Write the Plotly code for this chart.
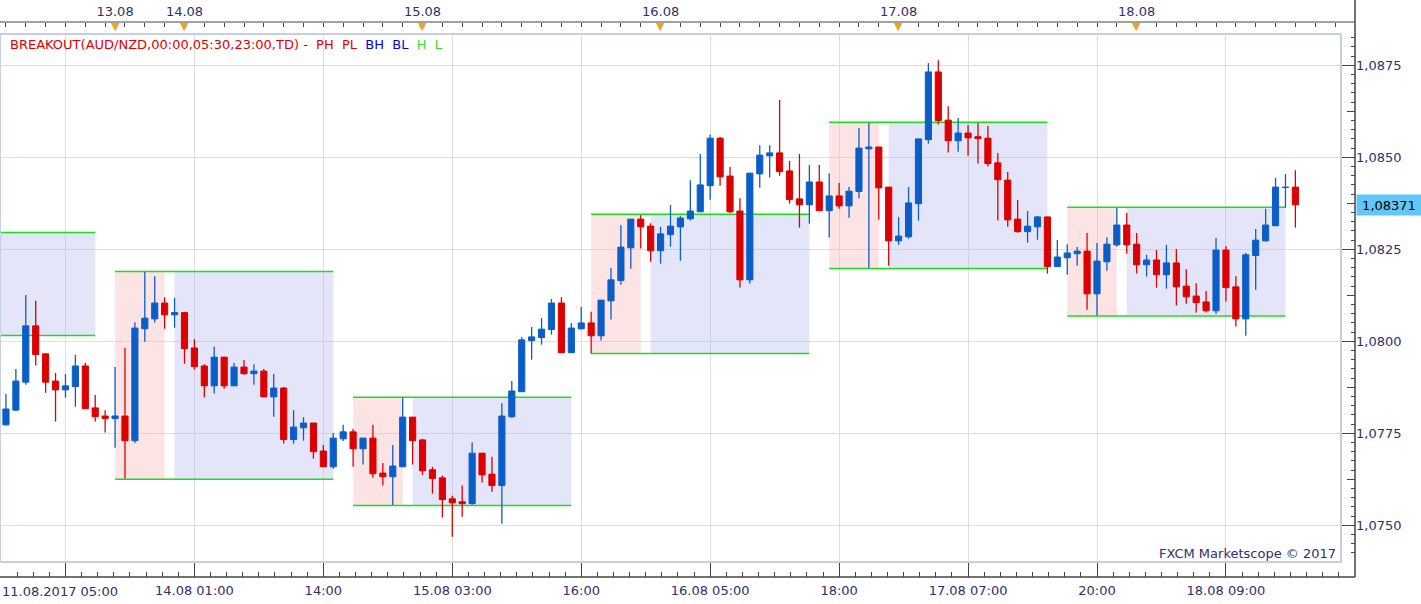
import plotly.graph_objects as go

# ---------------- data (hourly AUD/NZD candles) ----------------
opens = [1.07773, 1.07813, 1.07889, 1.08042, 1.07966, 1.07892, 1.07868, 1.07877, 1.07933, 1.07819,
         1.07797, 1.07790, 1.07797, 1.07730, 1.08034, 1.08061, 1.08104, 1.08072, 1.08078, 1.07982,
         1.07933, 1.07879, 1.07957, 1.07879, 1.07930, 1.07912, 1.07919, 1.07849, 1.07873, 1.07733,
         1.07765, 1.07778, 1.07702, 1.07659, 1.07735, 1.07754, 1.07708, 1.07737, 1.07642, 1.07632,
         1.07659, 1.07794, 1.07732, 1.07651, 1.07629, 1.07572, 1.07564, 1.07559, 1.07696, 1.07639,
         1.07608, 1.07795, 1.07863, 1.08002, 1.08010, 1.08032, 1.08104, 1.07969, 1.08034, 1.08050,
         1.08015, 1.08110, 1.08165, 1.08254, 1.08332, 1.08313, 1.08246, 1.08290, 1.08311, 1.08333,
         1.08352, 1.08423, 1.08552, 1.08449, 1.08354, 1.08167, 1.08455, 1.08504, 1.08512, 1.08463,
         1.08387, 1.08371, 1.08433, 1.08355, 1.08395, 1.08368, 1.08407, 1.08523, 1.08528, 1.08419,
         1.08273, 1.08284, 1.08374, 1.08548, 1.08732, 1.08601, 1.08545, 1.08566, 1.08556, 1.08552,
         1.08485, 1.08438, 1.08332, 1.08298, 1.08311, 1.08338, 1.08203, 1.08227, 1.08238, 1.08245,
         1.08129, 1.08216, 1.08262, 1.08316, 1.08264, 1.08208, 1.08221, 1.08181, 1.08213, 1.08150,
         1.08123, 1.08107, 1.08083, 1.08248, 1.08148, 1.08061, 1.08233, 1.08273, 1.08314, 1.08418,
         1.08419]
highs = [1.07857, 1.07925, 1.08126, 1.08110, 1.07966, 1.07914, 1.07911, 1.07963, 1.07941, 1.07854,
         1.07813, 1.07930, 1.07982, 1.08052, 1.08189, 1.08177, 1.08120, 1.08118, 1.08080, 1.08006,
         1.07938, 1.07985, 1.07957, 1.07941, 1.07949, 1.07938, 1.07925, 1.07911, 1.07876, 1.07813,
         1.07794, 1.07778, 1.07718, 1.07751, 1.07773, 1.07762, 1.07737, 1.07773, 1.07669, 1.07718,
         1.07848, 1.07794, 1.07735, 1.07659, 1.07635, 1.07580, 1.07608, 1.07726, 1.07696, 1.07686,
         1.07832, 1.07892, 1.08012, 1.08039, 1.08063, 1.08115, 1.08120, 1.08050, 1.08093, 1.08080,
         1.08112, 1.08199, 1.08316, 1.08332, 1.08343, 1.08321, 1.08311, 1.08370, 1.08340, 1.08438,
         1.08509, 1.08561, 1.08555, 1.08474, 1.08389, 1.08457, 1.08533, 1.08533, 1.08656, 1.08490,
         1.08509, 1.08479, 1.08479, 1.08457, 1.08430, 1.08419, 1.08580, 1.08593, 1.08528, 1.08419,
         1.08338, 1.08419, 1.08550, 1.08756, 1.08764, 1.08639, 1.08607, 1.08588, 1.08593, 1.08585,
         1.08512, 1.08460, 1.08384, 1.08354, 1.08340, 1.08338, 1.08275, 1.08264, 1.08256, 1.08294,
         1.08267, 1.08283, 1.08362, 1.08349, 1.08294, 1.08235, 1.08248, 1.08262, 1.08251, 1.08196,
         1.08158, 1.08137, 1.08281, 1.08259, 1.08177, 1.08240, 1.08305, 1.08360, 1.08444, 1.08455,
         1.08465]
lows = [1.07771, 1.07811, 1.07882, 1.07934, 1.07860, 1.07782, 1.07847, 1.07822, 1.07817, 1.07782,
        1.07752, 1.07711, 1.07627, 1.07724, 1.07999, 1.08051, 1.08034, 1.08037, 1.07939, 1.07923,
        1.07847, 1.07858, 1.07871, 1.07879, 1.07909, 1.07882, 1.07849, 1.07795, 1.07722, 1.07722,
        1.07730, 1.07681, 1.07659, 1.07654, 1.07729, 1.07659, 1.07665, 1.07629, 1.07608, 1.07555,
        1.07659, 1.07665, 1.07637, 1.07586, 1.07521, 1.07469, 1.07523, 1.07556, 1.07616, 1.07591,
        1.07504, 1.07792, 1.07863, 1.07950, 1.07991, 1.08018, 1.07969, 1.07969, 1.08032, 1.07967,
        1.08002, 1.08059, 1.08154, 1.08197, 1.08252, 1.08216, 1.08211, 1.08257, 1.08219, 1.08328,
        1.08352, 1.08385, 1.08423, 1.08349, 1.08146, 1.08157, 1.08417, 1.08445, 1.08450, 1.08374,
        1.08309, 1.08320, 1.08355, 1.08282, 1.08360, 1.08336, 1.08388, 1.08200, 1.08330, 1.08205,
        1.08262, 1.08279, 1.08328, 1.08537, 1.08589, 1.08513, 1.08515, 1.08504, 1.08483, 1.08475,
        1.08328, 1.08311, 1.08295, 1.08268, 1.08276, 1.08184, 1.08203, 1.08181, 1.08205, 1.08086,
        1.08070, 1.08192, 1.08257, 1.08238, 1.08184, 1.08176, 1.08146, 1.08143, 1.08097, 1.08102,
        1.08078, 1.08078, 1.08075, 1.08108, 1.08040, 1.08015, 1.08140, 1.08271, 1.08314, 1.08363,
        1.08309]
closes = [1.07816, 1.07892, 1.08042, 1.07964, 1.07889, 1.07868, 1.07879, 1.07933, 1.07817, 1.07795,
          1.07790, 1.07797, 1.07730, 1.08036, 1.08063, 1.08104, 1.08072, 1.08078, 1.07980, 1.07931,
          1.07879, 1.07957, 1.07879, 1.07930, 1.07912, 1.07919, 1.07849, 1.07873, 1.07733, 1.07767,
          1.07778, 1.07700, 1.07659, 1.07737, 1.07754, 1.07708, 1.07737, 1.07640, 1.07632, 1.07661,
          1.07794, 1.07730, 1.07648, 1.07627, 1.07570, 1.07561, 1.07559, 1.07696, 1.07637, 1.07608,
          1.07797, 1.07865, 1.08004, 1.08012, 1.08033, 1.08104, 1.07969, 1.08036, 1.08050, 1.08015,
          1.08112, 1.08167, 1.08256, 1.08332, 1.08311, 1.08246, 1.08292, 1.08313, 1.08335, 1.08354,
          1.08425, 1.08552, 1.08447, 1.08352, 1.08167, 1.08457, 1.08506, 1.08512, 1.08461, 1.08385,
          1.08371, 1.08433, 1.08355, 1.08395, 1.08368, 1.08408, 1.08525, 1.08528, 1.08417, 1.08273,
          1.08286, 1.08376, 1.08550, 1.08732, 1.08600, 1.08545, 1.08566, 1.08553, 1.08551, 1.08483,
          1.08439, 1.08330, 1.08298, 1.08313, 1.08338, 1.08203, 1.08229, 1.08240, 1.08245, 1.08129,
          1.08218, 1.08264, 1.08316, 1.08262, 1.08208, 1.08221, 1.08181, 1.08213, 1.08148, 1.08121,
          1.08105, 1.08083, 1.08248, 1.08146, 1.08061, 1.08235, 1.08275, 1.08316, 1.08419, 1.08419,
          1.08371]

# breakout sessions (candle index of range / breakout window, range high / low)
range_start = [-13, 11, 35, 59, 83, 107]
range_end = [-8, 16, 40, 64, 88, 112]
window_start = [-7, 17, 41, 65, 89, 113]
window_end = [9, 33, 57, 81, 105, 129]
range_high = [1.08296, 1.08190, 1.07848, 1.08345, 1.08595, 1.08364]
range_low = [1.08016, 1.07625, 1.07554, 1.07967, 1.08198, 1.08069]

# axis labels
bottom_tick_idx = [6, 19, 32, 45, 58, 71, 84, 97, 110, 123]
bottom_tick_labels = ['11.08.2017 05:00', '14.08 01:00', '14:00', '15.08 03:00', '16:00',
                      '16.08 05:00', '18:00', '17.08 07:00', '20:00', '18.08 09:00']
date_idx = [11, 18, 42, 66, 90, 114]
date_labels = ['13.08', '14.08', '15.08', '16.08', '17.08', '18.08']

# ---------------- style ----------------
W, H = 1421, 604
BLUE = '#0b5ec8'
RED = '#dc0000'
GREEN = '#18e018'
PINK = 'rgba(250,182,182,0.37)'
LAVENDER = 'rgba(185,185,242,0.37)'
TXT = '#30306a'
FONT = 'DejaVu Sans'

def px_x(p):
    return p / W

def px_y(p):
    return (H - p) / H

plot_left, plot_right, plot_top, plot_bottom = 0, 1341, 34, 562
axis_x_px = 1355
bottom_line_px = 577
top_line_px = 22

xdom = [px_x(plot_left), px_x(plot_right)]
ydom = [px_y(plot_bottom), px_y(plot_top)]
xrange_ = [-0.6, 134.6]
yrange_ = [1.074003, 1.088351]

idx = list(range(len(opens)))
is_up = [c > o for o, c in zip(opens, closes)]

fig = go.Figure()

# wicks (one trace per colour)
for up_flag, col in ((True, BLUE), (False, RED)):
    wx, wy = [], []
    for i, u in enumerate(is_up):
        if u == up_flag:
            wx += [idx[i], idx[i], None]
            wy += [lows[i], highs[i], None]
    fig.add_trace(go.Scatter(x=wx, y=wy, mode='lines', line=dict(color=col, width=1.3),
                             showlegend=False, hoverinfo='skip'))

# bodies
fig.add_trace(go.Bar(
    x=idx, y=[abs(c - o) for o, c in zip(opens, closes)], base=[min(o, c) for o, c in zip(opens, closes)],
    width=0.62,
    marker=dict(color=[BLUE if u else RED for u in is_up],
                line=dict(color=[BLUE if u else RED for u in is_up], width=1)),
    showlegend=False, hoverinfo='skip'))

# helpers that make the extra overlay axes exist
fig.add_trace(go.Scatter(x=date_idx, y=[None] * len(date_idx), xaxis='x2', yaxis='y',
                         mode='markers', showlegend=False, hoverinfo='skip'))
fig.add_trace(go.Scatter(x=[None], y=[None], xaxis='x', yaxis='y3',
                         mode='markers', showlegend=False, hoverinfo='skip'))

shapes = []
for rs, re_, ws, we, hi, lo in zip(range_start, range_end, window_start, window_end, range_high, range_low):
    shapes.append(dict(type='rect', xref='x', yref='y', x0=rs, x1=re_, y0=lo, y1=hi,
                       fillcolor=PINK, line=dict(width=0), layer='between'))
    shapes.append(dict(type='rect', xref='x', yref='y', x0=ws, x1=we, y0=lo, y1=hi,
                       fillcolor=LAVENDER, line=dict(width=0), layer='between'))
    for v in (hi, lo):
        shapes.append(dict(type='line', xref='x', yref='y', x0=rs, x1=we, y0=v, y1=v,
                           line=dict(color=GREEN, width=1.5), layer='between'))

# plot frame and outer axis frame
shapes.append(dict(type='rect', xref='paper', yref='paper', x0=xdom[0], x1=xdom[1], y0=ydom[0], y1=ydom[1],
                   line=dict(color='#c6d0e4', width=2), fillcolor='rgba(0,0,0,0)', layer='above'))
shapes.append(dict(type='line', xref='paper', yref='paper', x0=0, x1=px_x(axis_x_px),
                   y0=px_y(bottom_line_px), y1=px_y(bottom_line_px), line=dict(color='#444', width=1.5)))
shapes.append(dict(type='line', xref='paper', yref='paper', x0=px_x(axis_x_px), x1=px_x(axis_x_px),
                   y0=px_y(bottom_line_px), y1=1, line=dict(color='#444', width=1.5)))
shapes.append(dict(type='line', xref='paper', yref='paper', x0=0, x1=px_x(axis_x_px),
                   y0=px_y(top_line_px), y1=px_y(top_line_px), line=dict(color='#444', width=1)))

annotations = []
legend_text = ('<span style="color:#e00000">BREAKOUT(AUD/NZD,00:00,05:30,23:00,TD) -\u00a0\u00a0PH\u00a0\u00a0PL</span>'
               '\u00a0\u00a0<span style="color:#0000f0">BH\u00a0\u00a0BL</span>'
               '\u00a0\u00a0<span style="color:#2ee02e">H\u00a0\u00a0L</span>')
annotations.append(dict(text=legend_text, xref='paper', yref='paper', x=px_x(8), y=px_y(44),
                        xanchor='left', yanchor='middle', showarrow=False,
                        font=dict(family=FONT, size=13, color='#e00000')))
annotations.append(dict(text='FXCM Marketscope \u00a9 2017', xref='paper', yref='paper',
                        x=px_x(1338), y=px_y(553), xanchor='right', yanchor='middle', showarrow=False,
                        font=dict(family=FONT, size=13, color=TXT)))
annotations.append(dict(text=bottom_tick_labels[0], xref='paper', yref='paper', x=0, y=px_y(591),
                        xanchor='left', yanchor='middle', showarrow=False,
                        font=dict(family=FONT, size=13, color=TXT)))
for d in date_idx:
    annotations.append(dict(text='\u25bc', xref='x', yref='paper', x=d, y=px_y(27),
                            xanchor='center', yanchor='middle', showarrow=False,
                            font=dict(family=FONT, size=11, color='#f4a21c')))
last = closes[-1]
annotations.append(dict(text=f'{last:.5f}'.replace('.', ','), xref='paper', yref='y',
                        x=px_x(axis_x_px + 1), y=last, xanchor='left', yanchor='middle',
                        showarrow=False, bgcolor='#62c6f6', width=62, height=18,
                        font=dict(family=FONT, size=13, color='#000000')))

fig.update_layout(
    width=W, height=H,
    margin=dict(l=0, r=0, t=0, b=0),
    paper_bgcolor='white', plot_bgcolor='white',
    separators=', ',
    showlegend=False,
    font=dict(family=FONT, size=13, color=TXT),
    xaxis=dict(domain=xdom, range=xrange_, anchor='free', position=px_y(bottom_line_px),
               tickmode='array', tickvals=bottom_tick_idx, ticktext=[''] + bottom_tick_labels[1:],
               ticks='inside', ticklen=15, tickcolor='#444', tickwidth=1, ticklabelstandoff=4,
               showgrid=True, gridcolor='#dedede', gridwidth=1, zeroline=False, showline=False,
               tickfont=dict(family=FONT, size=13, color=TXT),
               minor=dict(tickmode='linear', tick0=6, dtick=13 / 8, ticks='inside', ticklen=5,
                          tickcolor='#444', showgrid=False)),
    xaxis2=dict(overlaying='x', range=xrange_, anchor='free', position=px_y(top_line_px), side='top',
                tickmode='array', tickvals=date_idx, ticktext=date_labels, ticklabelstandoff=3,
                ticks='inside', ticklen=6, tickcolor='#444', showgrid=False, zeroline=False,
                showline=False, tickfont=dict(family=FONT, size=13, color=TXT),
                minor=dict(tickmode='linear', tick0=0, dtick=2, ticks='inside', ticklen=4,
                           tickcolor='#444', showgrid=False)),
    yaxis=dict(domain=ydom, range=yrange_, anchor='free', position=px_x(axis_x_px), side='right',
               tickmode='linear', tick0=1.075, dtick=0.0025, tickformat='.4f',
               ticks='inside', ticklen=13, tickcolor='#444',
               showgrid=True, gridcolor='#dedede', gridwidth=1, zeroline=False, showline=False,
               tickfont=dict(family=FONT, size=13, color=TXT),
               minor=dict(tickmode='linear', tick0=1.075, dtick=0.00025, ticks='inside', ticklen=4,
                          tickcolor='#444', showgrid=False)),
    yaxis3=dict(overlaying='y', range=yrange_, anchor='free', position=px_x(axis_x_px), side='right',
                tickmode='linear', tick0=1.075, dtick=0.00125, ticks='inside', ticklen=8,
                tickcolor='#444', showticklabels=False, showgrid=False, zeroline=False, showline=False),
    shapes=shapes,
    annotations=annotations,
)

fig.write_html('out.html')
